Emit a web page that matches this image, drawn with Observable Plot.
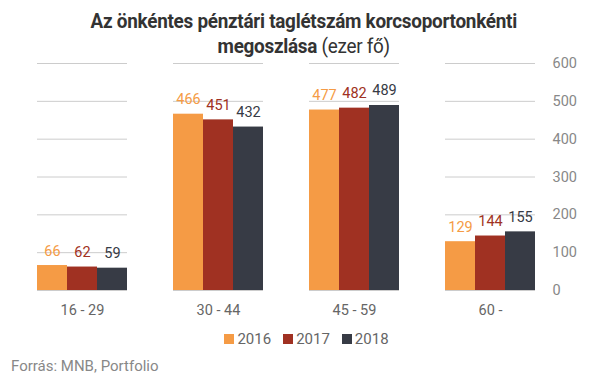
<!DOCTYPE html>
<html><head><meta charset="utf-8">
<script src="https://cdn.jsdelivr.net/npm/d3@7"></script>
<script src="https://cdn.jsdelivr.net/npm/@observablehq/plot@0.6"></script>
<style>
body{margin:0;background:#fff;font-family:Roboto,"Noto Sans",sans-serif;}
#wrap{position:relative;width:607px;height:380px;overflow:hidden;}
#title{position:absolute;top:9px;left:0;width:607px;text-align:center;font-size:21px;line-height:25px;color:#333;font-weight:700;letter-spacing:-0.3px;transform:scaleX(0.9);transform-origin:306px 0;}
#title span{font-weight:400;}
#chart{position:absolute;top:0;left:0;}
#legend{position:absolute;top:330px;left:3px;width:607px;text-align:center;font-size:15px;color:#666;}
#legend .it{display:inline-block;margin:0 6px;}
#legend .sw{display:inline-block;width:10px;height:10px;vertical-align:0px;margin-right:3px;}
#caption{position:absolute;top:357px;left:11px;font-size:15px;color:#888;}
</style></head>
<body><div id="wrap">
<div id="chart"></div>
<div id="title">Az önkéntes pénztári taglétszám korcsoportonkénti<br>megoszlása <span>(ezer fő)</span></div>
<div id="legend"></div>
<div id="caption">Forrás: MNB, Portfolio</div>
</div>
<script>
const categories = ["16 - 29", "30 - 44", "45 - 59", "60 -"];
const years = ["2016", "2017", "2018"];
const v2016 = [66, 466, 477, 129];
const v2017 = [62, 451, 482, 144];
const v2018 = [59, 432, 489, 155];
const colors = ["#F59B45", "#A03122", "#373B45"];
const yTicks = [0, 100, 200, 300, 400, 500, 600];

const series = [v2016, v2017, v2018];
const data = [];
categories.forEach((c, i) => years.forEach((y, j) => data.push({cat: c, year: y, value: series[j][i]})));

const chart = Plot.plot({
  width: 607, height: 320,
  marginTop: 63, marginBottom: 30, marginLeft: 14, marginRight: 49,
  style: {fontFamily: "Roboto, sans-serif", background: "transparent"},
  fx: {domain: categories, paddingInner: 0.34, paddingOuter: 0.17, label: null},
  x: {domain: years, padding: 0, axis: null},
  y: {domain: [0, 600], axis: null},
  color: {domain: years, range: colors},
  marks: [
    Plot.gridY(yTicks, {stroke: "#cccccc", strokeOpacity: 1, strokeWidth: 1}),
    Plot.axisY(yTicks, {anchor: "right", label: null, tickSize: 0, tickPadding: 17, fontSize: 14.5, fill: "#888", tickFormat: d => d}),
    Plot.axisFx({anchor: "bottom", tickSize: 0, tickPadding: 14, fontSize: 14.5, fill: "#666", label: null}),
    Plot.barY(data, {fx: "cat", x: "year", y: "value", fill: "year"}),
    Plot.text(data, {fx: "cat", x: "year", y: "value", text: d => d.value, fill: "year", dy: -10, lineAnchor: "bottom", fontSize: 14.5})
  ]
});
document.getElementById("chart").appendChild(chart);

const lg = document.getElementById("legend");
years.forEach((y, j) => {
  const it = document.createElement("span");
  it.className = "it";
  it.innerHTML = `<span class="sw" style="background:${colors[j]}"></span>${y}`;
  lg.appendChild(it);
});
</script>
</body></html>
